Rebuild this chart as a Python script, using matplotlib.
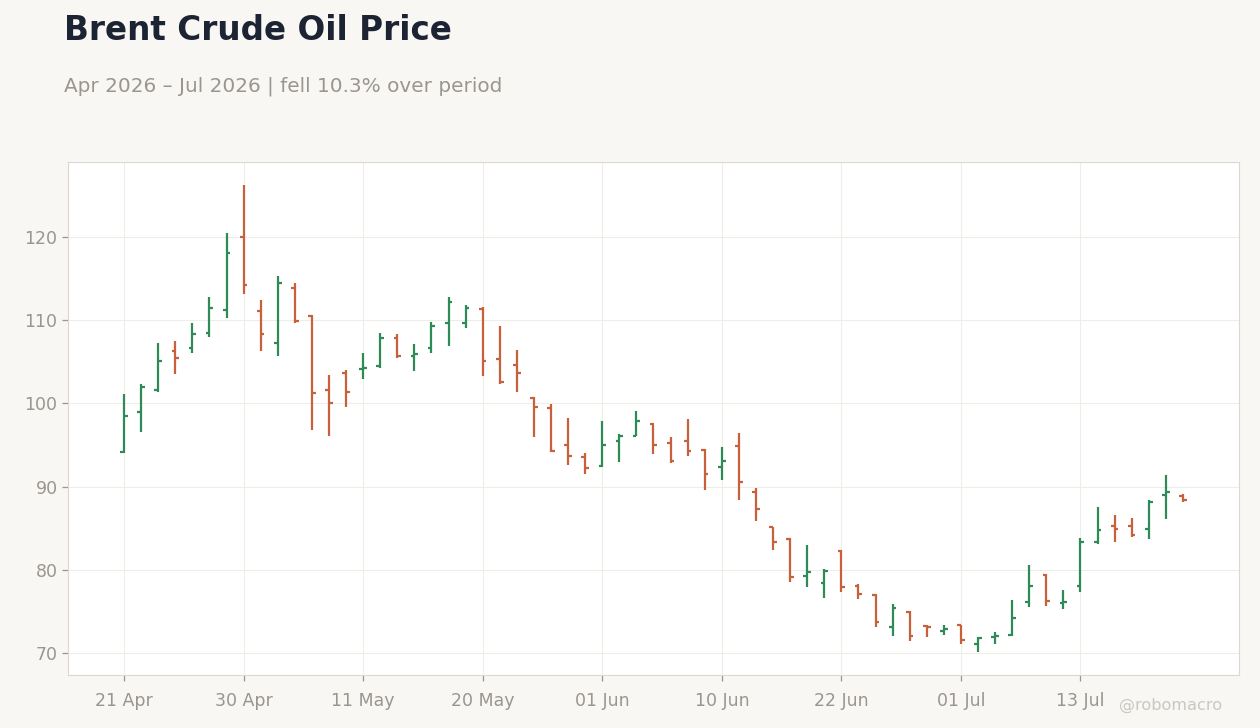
import matplotlib
matplotlib.use("Agg")
import matplotlib.pyplot as plt
import pandas as pd

# NYSE-style trading days (Memorial Day, Juneteenth, Jul 3 closed)
HOLIDAYS = ["2026-05-25", "2026-06-19", "2026-07-03"]
N_BARS = 63

opens = [94.1, 99.0, 101.6, 106.3, 106.6, 108.4, 111.2, 120.0, 111.1, 107.2,
         113.9, 110.5, 101.6, 103.7, 104.1, 104.5, 107.8, 105.7, 106.7, 109.7,
         109.6, 111.3, 105.3, 104.6, 100.6, 99.5, 95.0, 93.5, 92.5, 95.5,
         96.1, 97.5, 95.2, 95.5, 94.4, 92.3, 94.9, 89.3, 85.1, 83.7,
         79.3, 78.4, 82.3, 78.1, 77.0, 73.2, 75.0, 73.3, 72.7, 73.4,
         71.1, 72.0, 72.2, 76.1, 79.4, 76.0, 78.1, 83.4, 85.3, 85.3,
         84.9, 89.0, 88.9]
highs = [101.1, 102.3, 107.3, 107.5, 109.7, 112.8, 120.4, 126.2, 112.4, 115.3,
         114.5, 110.6, 103.4, 104.0, 106.1, 108.5, 108.3, 107.1, 109.8, 112.8,
         111.8, 111.6, 109.3, 106.4, 100.8, 99.9, 98.2, 94.0, 97.9, 96.3,
         99.1, 97.6, 96.0, 98.1, 94.5, 94.8, 96.4, 89.8, 85.2, 83.8,
         83.0, 80.1, 82.4, 78.3, 77.1, 75.9, 75.1, 73.4, 73.4, 73.4,
         71.9, 72.6, 76.4, 80.6, 79.5, 77.6, 83.8, 87.5, 86.6, 86.2,
         88.4, 91.4, 89.1]
lows = [94.0, 96.6, 101.4, 103.5, 106.0, 108.0, 110.3, 113.1, 106.3, 105.7,
        109.7, 96.8, 96.1, 99.6, 102.9, 104.2, 105.4, 103.9, 106.1, 106.9,
        109.0, 103.3, 102.3, 101.4, 96.0, 94.2, 92.6, 91.5, 92.4, 92.9,
        96.1, 93.9, 92.8, 93.7, 89.6, 90.8, 88.4, 85.9, 82.4, 78.5,
        77.9, 76.6, 77.4, 76.5, 73.2, 72.1, 71.5, 72.0, 72.2, 71.1,
        70.2, 71.1, 72.1, 75.5, 75.7, 75.3, 77.4, 83.1, 83.4, 83.9,
        83.7, 86.1, 88.2]
closes = [98.5, 102.0, 105.1, 105.4, 108.3, 111.4, 118.1, 114.2, 108.3, 114.5,
          109.9, 101.3, 100.1, 101.4, 104.3, 107.9, 105.7, 105.9, 109.3, 112.2,
          111.4, 105.1, 102.6, 103.6, 99.6, 94.3, 93.7, 92.2, 95.0, 96.1,
          97.9, 95.0, 93.1, 94.3, 91.5, 93.1, 90.5, 87.3, 83.3, 79.1,
          79.7, 79.9, 78.0, 77.1, 73.8, 75.4, 72.1, 73.1, 72.9, 71.6,
          71.8, 72.1, 74.2, 78.1, 76.3, 76.1, 83.4, 84.8, 84.9, 84.2,
          88.2, 89.3, 88.4]

dates = pd.bdate_range("2026-04-21", periods=N_BARS, freq="C", holidays=HOLIDAYS)

UP = "#2e8b57"
DOWN = "#c8603c"
BG = "#f8f7f4"
MUTED = "#9a9590"
EDGE = "#ddd7cf"

x = list(range(len(dates)))
colors = [UP if c >= o else DOWN for o, c in zip(opens, closes)]

fig = plt.figure(figsize=(12.6, 7.28), dpi=100)
fig.patch.set_facecolor(BG)
ax = fig.add_axes([0.054, 0.073, 0.9293, 0.7047])
ax.set_facecolor("white")

tick_w = 0.22
ax.vlines(x, lows, highs, colors=colors, linewidth=1.6, zorder=3)
ax.hlines(opens, [i - tick_w for i in x], x, colors=colors, linewidth=1.6, zorder=3)
ax.hlines(closes, x, [i + tick_w for i in x], colors=colors, linewidth=1.6, zorder=3)

ax.margins(y=0.05)
pad = 3.28
ax.set_xlim(x[0] - pad, x[-1] + pad)
ax.set_yticks([70, 80, 90, 100, 110, 120])
xt = x[::7]
ax.set_xticks(xt)
ax.set_xticklabels([dates[i].strftime("%d %b") for i in xt])

ax.grid(True, color="#efedea", linewidth=0.8, zorder=0)
ax.tick_params(colors=MUTED, labelsize=12.5, length=4, width=0.9)
ax.tick_params(axis="x", pad=8)
for spine in ax.spines.values():
    spine.set_color(EDGE)

change = (closes[-1] / closes[0] - 1) * 100
word = "fell" if change < 0 else "rose"
start_lbl = dates[0].strftime("%b %Y")
end_lbl = dates[-1].strftime("%b %Y")

fig.text(0.0508, 0.945, "Brent Crude Oil Price", fontsize=23.5, weight="bold",
         color="#1c2333", va="baseline")
fig.text(0.0508, 0.874, f"{start_lbl} – {end_lbl} | {word} {abs(change):.1f}% over period",
         fontsize=14.4, color=MUTED, va="baseline")
fig.text(0.970, 0.025, "@robomacro", fontsize=11.6, color="#cbc7c1",
         ha="right", va="baseline")

fig.savefig("out.png", dpi=100, facecolor=BG)
plt.close(fig)
